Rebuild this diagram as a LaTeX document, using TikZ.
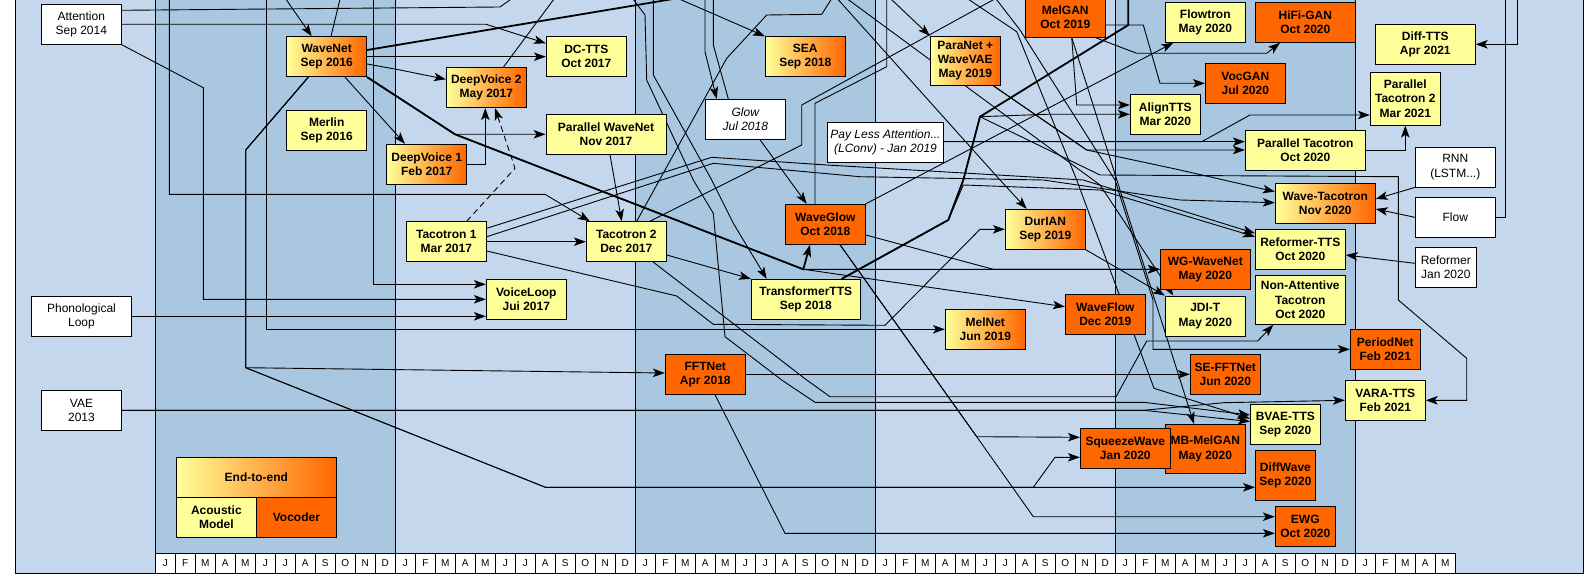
\documentclass[tikz,border=0pt]{standalone}
\usepackage{fontspec}
\setmainfont{Liberation Sans}
\usetikzlibrary{arrows.meta}
\definecolor{bglight}{RGB}{196,215,237}
\definecolor{bgdark}{RGB}{169,199,225}
\definecolor{amyel}{RGB}{255,255,153}
\definecolor{vocor}{RGB}{255,102,0}
\pgfdeclarelayer{back}
\pgfdeclarelayer{wires}
\pgfsetlayers{back,wires,main}
\tikzset{
  box/.style={draw, line width=0.9pt, align=center, inner sep=0pt, minimum height=40pt, font=\fontsize{12}{14.3}\selectfont\bfseries},
  amodel/.style={box, fill=amyel},
  vocod/.style={box, fill=vocor},
  e2e/.style={box, left color=amyel, right color=vocor},
  ext/.style={draw, line width=0.9pt, fill=white, align=center, inner sep=0pt, minimum height=40pt, font=\fontsize{12}{14.3}\selectfont},
  extit/.style={ext, font=\fontsize{12}{14.3}\selectfont\itshape},
  link/.style={draw, line width=0.9pt},
  arr/.style={link, -{Stealth[length=12pt,width=8.5pt,inset=3pt]}},
  heavy/.style={line width=1.8pt},
  monthcell/.style={draw, line width=0.8pt, fill=white, minimum width=20pt, minimum height=20pt, inner sep=0pt, font=\fontsize{10}{12}\selectfont}
}

\begin{document}
\begin{tikzpicture}[x=1pt, y=-1pt]
        \useasboundingbox (0,0) rectangle (1594,588);
        % years
        \begin{pgfonlayer}{back}
        \fill[bglight] (15.3,-5) rectangle (1583,573);
        \foreach \xa in {155.3,635.3,1115.3}
            \fill[bgdark] (\xa,-5) rectangle ++(240,558.3);
        \foreach \xa in {155.3,395.3,635.3,875.3,1115.3,1355.3}
            \draw[line width=0.9pt] (\xa,-5) -- (\xa,553.3);
        \draw[line width=0.9pt] (15.3,-5) -- (15.3,573) -- (1583,573) -- (1583,-5);
        \end{pgfonlayer}
        \foreach \yr in {0,...,4}{
            \foreach \m [count=\k from 0] in {J,F,M,A,M,J,J,A,S,O,N,D}
                \node[monthcell] (mo\yr-\k) at ({165.3+240*\yr+20*\k},563.3) {\m};
        }
        \foreach \m [count=\k from 0] in {J,F,M,A,M}
            \node[monthcell] (mo5-\k) at ({1365.3+20*\k},563.3) {\m};

        % outside ideas
        \node[ext, minimum width=80pt] (attn) at (81.3,24.3) {Attention\\Sep 2014};
        \node[ext, minimum width=100pt] (phono) at (81.5,316.3) {Phonological\\Loop};
        \node[ext, minimum width=80pt] (vae) at (81.5,410.3) {VAE\\2013};
        \node[extit, minimum width=80pt] (glow) at (745.3,119.3) {Glow\\Jul 2018};
        \node[extit, minimum width=116pt] (lconv) at (885.5,142.3) {Pay Less Attention...\\(LConv) - Jan 2019};
        \node[ext, minimum width=80pt] (rnn) at (1455.3,167) {RNN\\(LSTM...)};
        \node[ext, minimum width=80pt] (flow) at (1455.3,217.3) {Flow};
        \node[ext, minimum width=61pt] (reformer) at (1445.8,267.3) {Reformer\\Jan 2020};

        % 2016 - 2017
        \node[e2e, minimum width=80pt] (wavenet) at (326.7,56.7) {WaveNet\\Sep 2016};
        \node[amodel, minimum width=80pt] (merlin) at (326.7,130.3) {Merlin\\Sep 2016};
        \node[e2e, minimum width=80pt] (dv1) at (426.7,164.3) {DeepVoice 1\\Feb 2017};
        \node[e2e, minimum width=80pt] (dv2) at (486.3,87.7) {DeepVoice 2\\May 2017};
        \node[amodel, minimum width=80pt] (dctts) at (586.3,56.7) {DC-TTS\\Oct 2017};
        \node[amodel, minimum width=120pt] (pwn) at (606,134.3) {Parallel WaveNet\\Nov 2017};
        \node[amodel, minimum width=80pt] (tac1) at (446.3,241.7) {Tacotron 1\\Mar 2017};
        \node[amodel, minimum width=80pt] (tac2) at (626.3,241.7) {Tacotron 2\\Dec 2017};
        \node[amodel, minimum width=80pt] (voiceloop) at (526.3,299.3) {VoiceLoop\\Jui 2017};

        % 2018 - 2019
        \node[e2e, minimum width=80pt] (sea) at (805.3,56.7) {SEA\\Sep 2018};
        \node[vocod, minimum width=80pt] (waveglow) at (825.3,224.3) {WaveGlow\\Oct 2018};
        \node[amodel, minimum width=109pt] (tftts) at (805.8,299.3) {TransformerTTS\\Sep 2018};
        \node[vocod, minimum width=80pt] (fftnet) at (705.3,374.3) {FFTNet\\Apr 2018};
        \node[e2e, minimum width=70pt, minimum height=49pt] (paranet) at (965.3,60.8) {ParaNet +\\WaveVAE\\May 2019};
        \node[vocod, minimum width=80pt] (melgan) at (1065.3,17) {MelGAN\\Oct 2019};
        \node[e2e, minimum width=80pt] (durian) at (1045.3,229.3) {DurIAN\\Sep 2019};
        \node[e2e, minimum width=80pt] (melnet) at (985.3,329.3) {MelNet\\Jun 2019};
        \node[vocod, minimum width=80pt] (waveflow) at (1105.3,314.3) {WaveFlow\\Dec 2019};

        % 2020 - 2021
        \node[amodel, minimum width=70pt] (aligntts) at (1165.3,114.3) {AlignTTS\\Mar 2020};
        \node[amodel, minimum width=80pt] (flowtron) at (1205.3,22.3) {Flowtron\\May 2020};
        \node[vocod, minimum width=100pt] (hifigan) at (1305.3,22.3) {HiFi-GAN\\Oct 2020};
        \node[vocod, minimum width=80pt] (vocgan) at (1245.3,83.3) {VocGAN\\Jul 2020};
        \node[amodel, minimum width=100pt] (difftts) at (1425.3,44.3) {Diff-TTS\\Apr 2021};
        \node[amodel, minimum width=70pt, minimum height=53pt] (ptac2) at (1405.3,98.7) {Parallel\\Tacotron 2\\Mar 2021};
        \node[amodel, minimum width=120pt] (ptac) at (1305.3,150.3) {Parallel Tacotron\\Oct 2020};
        \node[e2e, minimum width=100pt] (wavetac) at (1325.3,203.3) {Wave-Tacotron\\Nov 2020};
        \node[amodel, minimum width=90pt] (reftts) at (1300.3,249.3) {Reformer-TTS\\Oct 2020};
        \node[amodel, minimum width=90pt, minimum height=49pt] (nat) at (1300.3,299.8) {Non-Attentive\\Tacotron\\Oct 2020};
        \node[vocod, minimum width=90pt] (wgwavenet) at (1205.3,269.3) {WG-WaveNet\\May 2020};
        \node[amodel, minimum width=80pt] (jdit) at (1205.3,316) {JDI-T\\May 2020};
        \node[vocod, minimum width=70pt] (periodnet) at (1385.3,349.3) {PeriodNet\\Feb 2021};
        \node[vocod, minimum width=70pt] (seffts) at (1225.3,374.3) {SE-FFTNet\\Jun 2020};
        \node[amodel, minimum width=80pt] (varatts) at (1385.3,400.3) {VARA-TTS\\Feb 2021};
        \node[amodel, minimum width=70pt] (bvae) at (1285.3,424.3) {BVAE-TTS\\Sep 2020};
        \node[vocod, minimum width=80pt, minimum height=49pt] (mbmelgan) at (1205.3,448.8) {MB-MelGAN\\May 2020};
        \node[vocod, minimum width=90pt] (squeeze) at (1125.3,448.3) {SqueezeWave\\Jan 2020};
        \node[vocod, minimum width=60pt, minimum height=50pt] (diffwave) at (1285.4,475.3) {DiffWave\\Sep 2020};
        \node[vocod, minimum width=60pt] (ewg) at (1305.3,526.3) {EWG\\Oct 2020};

        % legend
        \node[e2e, minimum width=160pt] (lgE) at (256.4,477.3) {End-to-end};
        \node[amodel, minimum width=80pt] (lgA) at (216.4,517.3) {Acoustic\\Model};
        \node[vocod, minimum width=80pt] (lgV) at (296.4,517.3) {Vocoder};

        % ends above the cut
        \coordinate (oSeq) at (169.3,-5);
        \coordinate (oMN) at (266.3,-5);
        \coordinate (oWN) at (283,-5);
        \coordinate (oWNu) at (341,-5);
        \coordinate (oVL) at (373.3,-5);
        \coordinate (oAttn) at (517,-5);
        \coordinate (oDV) at (557,-5);
        \coordinate (oLA) at (630,-5);
        \coordinate (oLB) at (653.3,-5);
        \coordinate (oSEA) at (670,-5);
        \coordinate (oWNt) at (697,-5);
        \coordinate (oGa) at (705,-5);
        \coordinate (oGb) at (713.3,-5);
        \coordinate (oTup) at (834,-5);
        \coordinate (oJDI) at (842,-5);
        \coordinate (oPara) at (886.7,-5);
        \coordinate (oS1) at (962,-5);
        \coordinate (oS2) at (993,-5);
        \coordinate (oT15) at (1002,-5);
        \coordinate (oFS) at (1128.3,-5);
        \coordinate (oFlow) at (1505,-5);
        \coordinate (oDiff) at (1517.3,-5);

        \begin{pgfonlayer}{wires}
        \draw[arr] (oSeq) -- (169.3,194.3) -- (545,194.3) -- ([xshift=4pt]tac2.north west);
        \draw[arr] (oMN) -- (266.3,329.3) -- (melnet.west |- 0,329.3);
        \draw[arr] (oWN) -- (wavenet.north -| 311.7,0);
        \draw[link] (wavenet.north -| 331,0) -- (oWNu);
        \draw[arr] (oVL) -- (373.3,284.3) -- (voiceloop.west |- 0,284.3);
        \draw[link] (dv2.north -| 503.3,0) -- (oDV);
        \draw[arr] (oLA) -- (645,15) -- (646.7,80) -- (693.3,180) -- (713.3,213.3) -- (725,336.7) -- (781.7,380) -- (815,402.3) -- (1143.7,402.3) -- (bvae.west |- 0,415);
        \draw[arr] (oLB) -- (653.3,75) -- (711.7,180) -- (733.3,223.3) -- (tftts.north -| 766.7,0);
        \draw[arr] (oSEA) -- (sea.north west);
        \draw[arr] (oGa) -- (705,51.7) -- (glow.north -| 716.7,0);
        \draw[link] (oGb) -- (713.3,45) -- (glow.north -| 728.3,0);
        \draw[arr] (oTup) -- (1000,180) -- (durian.north -| 1026.7,0);
        \draw[arr] (oJDI) -- (1100,185) -- (jdit.north -| 1173.3,0);
        \draw[arr] (oPara) -- (paranet.north west);
        \draw[arr] (oS1) -- (1016.7,31.7) -- (1076.7,180) -- (1154,388.3) -- (bvae.west |- 0,418.5);
        \draw[arr] (oS2) -- (1020,30) -- (1115,180) -- (1153,300) -- (1153,349.3) -- (periodnet.west);
        \draw[arr] (oDiff) -- (1517.3,44.3) -- (difftts.east);

        \draw[link] (attn.east |- 0,10.3) -- (500,7) -- (oAttn);
        \draw[arr] (attn.east |- 0,24.3) -- (486,24.3) -- (dctts.west |- 0,43.3);
        \draw[arr] (attn.south east) -- (203.3,87.7) -- (203.3,299.3) -- (voiceloop.west |- 0,299.3);
        \draw[arr] (phono.east) -- (voiceloop.west |- 0,316.3);

        \draw[link, heavy] (wavenet.east |- 0,50) -- (oWNt);
        \draw[arr] (wavenet.east) -- (dctts.west);
        \draw[arr] (wavenet.east |- 0,64) -- (400,70) -- (dv2.west |- 0,79.3);
        \draw[arr] (wavenet.south -| 345,0) -- (dv1.north -| 405,0);
        \draw[arr] (wavenet.south east) -- (455,134.3) -- (pwn.west |- 0,134.3);
        \draw[arr, heavy] (wavenet.south east) -- (455,134.3) -- (803.3,269.3) -- (waveglow.south -| 810,0);
        \draw[arr] (wavenet.south east) -- (455,134.3) -- (803.3,269.3) -- (wgwavenet.west);
        \draw[arr] (wavenet.south east) -- (455,134.3) -- (803.3,269.3) -- (waveflow.west |- 0,306.7);
        \draw[arr] (wavenet.south -| 308.3,0) -- (245.7,150) -- (245.7,367.7) -- (fftnet.west |- 0,373);
        \draw[arr] (wavenet.south -| 308.3,0) -- (245.7,150) -- (245.7,367.7) -- (545.4,487.3) -- (1033.3,487.3) -- (1055,457.3) -- (squeeze.west |- 0,457.3);
        \draw[arr] (wavenet.south -| 308.3,0) -- (245.7,150) -- (245.7,367.7) -- (545.4,487.3) -- (diffwave.west |- 0,487.3);

        \draw[arr] (dv1.east) -- (485.3,164.3) -- (dv2.south -| 485.3,0);
        \draw[arr, dash pattern=on 6pt off 4pt] (tac1.north -| 466.7,0) -- (515,168.3) -- (dv2.south -| 495,0);
        \draw[arr] (tac1.east) -- (tac2.west);
        \draw[arr] (tac1.east |- 0,228.3) -- (711.7,157.3) -- (826.7,165) -- (1083.3,180) -- (reftts.west |- 0,233.3);
        \draw[arr] (tac1.east |- 0,236.7) -- (713.3,163.3) -- (860,176.7) -- (1043.3,180) -- (1180,200) -- (wavetac.west |- 0,202.7);
        \draw[arr] (tac1.east |- 0,251) -- (676.7,296) -- (713.3,324.3) -- (885,325.3) -- (980,229.3) -- (durian.west);
        \draw[arr] (pwn.south -| 610,0) -- (tac2.north -| 621.7,0);
        \draw[arr] (tac2.east |- 0,255) -- (tftts.north west);
        \draw[link] (tac2.north -| 636.7,0) -- (726.7,58.3) -- (766.7,15) -- (821.7,14.3) -- (oTup);
        \draw[link] (tac2.north -| 650,0) -- (801.7,145) -- (801.7,105) -- (oT15);
        \draw[arr] (tac2.south -| 653.3,0) -- (806.7,380) -- (830,396.7) -- (1116,396.7) -- (1146.7,341) -- (1257.7,341) -- (nat.south -| 1273.3,0);

        \draw[arr] (glow.south -| 760,0) -- (waveglow.north -| 806.7,0);
        \draw[link] (waveglow.north -| 815,0) -- (815,103.3) -- (886.7,66.7) -- (oPara);
        \draw[arr] (waveglow.north east) -- (flowtron.south -| 1173.3,0);
        \draw[arr] (waveglow.east |- 0,235) -- (993.3,269.3) -- (wgwavenet.west);
        \draw[arr] (waveglow.south -| 840,0) -- (976.7,436.7) -- (squeeze.west |- 0,437.3);
        \draw[arr] (waveglow.south -| 840,0) -- (976.7,436.7) -- (1033.3,516.7) -- (ewg.west |- 0,516.7);

        \draw[link, heavy] (tftts.north -| 841.7,0) -- (948.3,220) -- (963.3,180) -- (980,116.7) -- (1128.3,25) -- (oFS);
        \draw[arr] (tftts.north -| 841.7,0) -- (948.3,220) -- (963.3,180) -- (980,116.7) -- (1046.7,114.3) -- (aligntts.west |- 0,114.3);
        \draw[arr] (tftts.north -| 841.7,0) -- (948.3,220) -- (963.3,180) -- (980,116.7) -- (1100,175) -- (1398.3,176.7) -- (1398.3,300) -- (1466.7,358.3) -- (1466.7,400.3) -- (varatts.east);
        \draw[arr] (tftts.north -| 841.7,0) -- (948.3,220) -- (963.3,185) -- (1100,190) -- (reftts.west |- 0,236.7);

        \draw[arr] (paranet.south -| 993.3,0) -- (1086.7,150) -- (ptac.west |- 0,150);
        \draw[arr] (paranet.south -| 993.3,0) -- (1086.7,150) -- (1180,170) -- (wavetac.west |- 0,191.7);
        \draw[arr] (lconv.east |- 0,141.7) -- (ptac.west |- 0,141.7);
        \draw[arr] (lconv.east |- 0,141.7) -- (1201.7,141.7) -- (1250,115) -- (ptac2.west |- 0,115);

        \draw[arr] (melgan.south -| 1095,0) -- (1136.7,53.3) -- (1266.7,53.3) -- (hifigan.south -| 1280,0);
        \draw[arr] (melgan.east |- 0,25) -- (1143.3,25) -- (1160,83.3) -- (vocgan.west);
        \draw[arr] (melgan.south -| 1071.7,0) -- (1076.7,105) -- (aligntts.west |- 0,105);
        \draw[arr] (melgan.south -| 1071.7,0) -- (mbmelgan.north -| 1194,0);

        \draw[arr] (durian.south east) -- (jdit.north west);
        \draw[arr] (fftnet.east) -- (seffts.west);
        \draw[arr] (fftnet.south -| 715,0) -- (785,533.3) -- (ewg.west |- 0,533.3);
        \draw[arr] (vae.east) -- (1143.7,410.3) -- (bvae.west |- 0,421.5);
        \draw[arr] (vae.east) -- (1143.7,410.3) -- (1223.5,402.7) -- (varatts.west |- 0,400.3);
        \draw[arr] (ptac.east) -- (1405.3,150.3) -- (ptac2.south);
        \draw[link] (flow.east) -- (1505,217.3) -- (oFlow);
        \draw[arr] (flow.west) -- (wavetac.east |- 0,209);
        \draw[arr] (rnn.south west) -- (wavetac.east |- 0,199);
        \draw[arr] (reformer.west |- 0,263.3) -- (reftts.east |- 0,255);
        \end{pgfonlayer}
    \end{tikzpicture}
\end{document}
